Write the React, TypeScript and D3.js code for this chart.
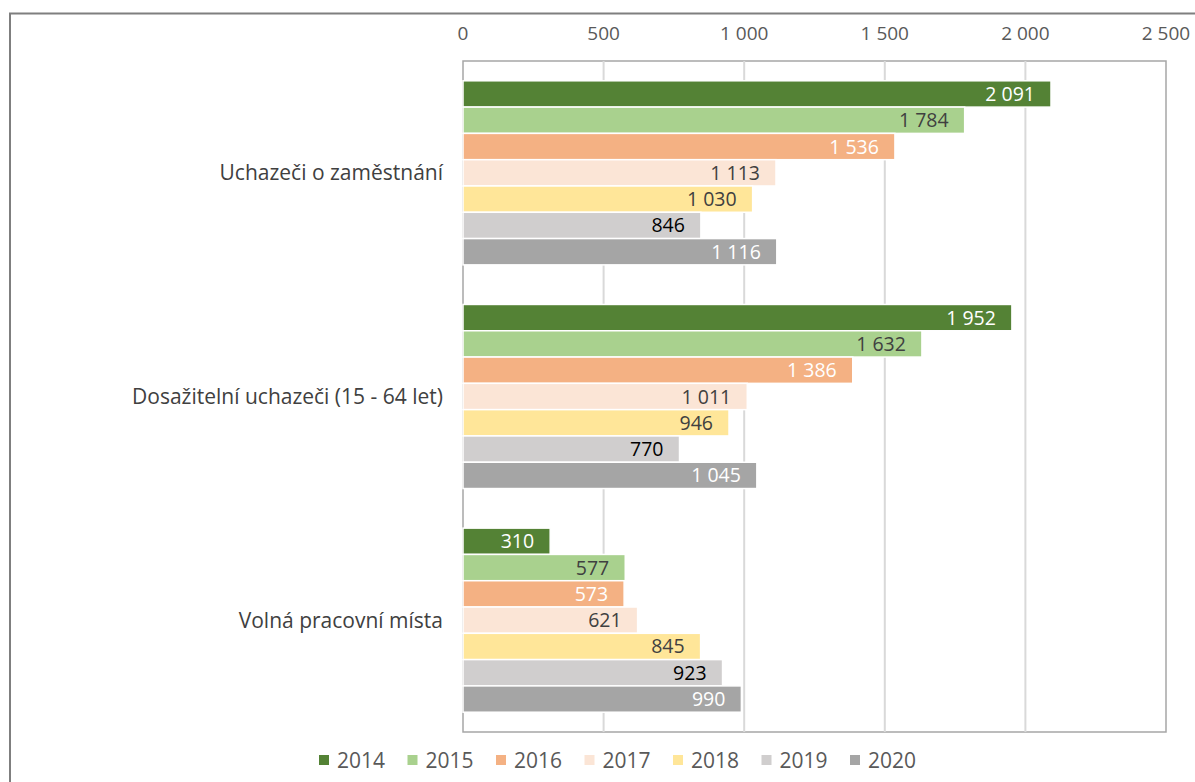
import * as d3 from 'd3'
import { useEffect, useRef } from 'react'

// categories (top to bottom) and years of the series
const categories = ['Uchazeči o zaměstnání', 'Dosažitelní uchazeči (15 - 64 let)', 'Volná pracovní místa']
const years = ['2014', '2015', '2016', '2017', '2018', '2019', '2020']

// values per year, in the order of categories
const values2014 = [2091, 1952, 310]
const values2015 = [1784, 1632, 577]
const values2016 = [1536, 1386, 573]
const values2017 = [1113, 1011, 621]
const values2018 = [1030, 946, 845]
const values2019 = [846, 770, 923]
const values2020 = [1116, 1045, 990]

const xTicks = [0, 500, 1000, 1500, 2000, 2500]

const seriesValues = [values2014, values2015, values2016, values2017, values2018, values2019, values2020]
const barColors = ['#548235', '#a9d18e', '#f4b183', '#fbe5d6', '#ffe699', '#d0cece', '#a5a5a5']
const labelColors = ['#ffffff', '#404040', '#ffffff', '#404040', '#404040', '#000000', '#ffffff']

const FONT = "'Open Sans', 'Noto Sans', sans-serif"

const App = () => {
    const ref = useRef<SVGSVGElement>(null)

    useEffect(() => {
        const svg = d3.select(ref.current)
        svg.selectAll('*').remove()

        const plot = { left: 463, right: 1166, top: 61, bottom: 732 }

        const x = d3.scaleLinear()
            .domain([0, 2500])
            .range([plot.left, plot.right])

        const y0 = d3.scaleBand()
            .domain(categories)
            .range([plot.top, plot.bottom])
            .paddingInner(0.177)
            .paddingOuter(0.0885)

        const y1 = d3.scaleBand()
            .domain(years)
            .range([0, y0.bandwidth()])

        const fmt = d3.formatLocale({ decimal: ',', thousands: '\u00a0', grouping: [3], currency: ['', ''] }).format(',d')

        // outer frame (only top and left edges are in view)
        svg.append('path')
            .attr('d', `M10,${782} V13.5 H1195`)
            .attr('fill', 'none')
            .attr('stroke', '#7f7f7f')
            .attr('stroke-width', 2)

        // plot area box
        svg.append('rect')
            .attr('x', plot.left)
            .attr('y', plot.top)
            .attr('width', plot.right - plot.left)
            .attr('height', plot.bottom - plot.top)
            .attr('fill', 'none')
            .attr('stroke', '#a6a6a6')
            .attr('stroke-width', 1.5)

        // gridlines
        svg.append('g')
            .selectAll('line')
            .data(xTicks.slice(1, -1))
            .join('line')
                .attr('x1', d => x(d))
                .attr('x2', d => x(d))
                .attr('y1', plot.top)
                .attr('y2', plot.bottom)
                .attr('stroke', '#d9d9d9')
                .attr('stroke-width', 2)

        // tick labels on top
        svg.append('g')
            .selectAll('text')
            .data(xTicks)
            .join('text')
                .attr('x', d => x(d))
                .attr('y', 40)
                .attr('text-anchor', 'middle')
                .attr('font-family', FONT)
                .attr('font-size', 19)
                .attr('fill', '#595959')
                .text(d => fmt(d))

        // category labels
        svg.append('g')
            .selectAll('text')
            .data(categories)
            .join('text')
                .attr('x', 443)
                .attr('y', d => y0(d)! + y0.bandwidth() / 2)
                .attr('dy', '0.35em')
                .attr('text-anchor', 'end')
                .attr('font-family', FONT)
                .attr('font-size', 21)
                .attr('fill', '#404040')
                .text(d => d)

        // bars
        const groups = svg.append('g')
            .selectAll('g')
            .data(years)
            .join('g')

        groups.selectAll('rect')
            .data((yr, i) => seriesValues[i].map((v, c) => ({ yr, i, v, cat: categories[c] })))
            .join('rect')
                .attr('x', x(0))
                .attr('y', d => y0(d.cat)! + y1(d.yr)!)
                .attr('width', d => x(d.v) - x(0))
                .attr('height', y1.bandwidth())
                .attr('fill', d => barColors[d.i])
                .attr('stroke', '#ffffff')
                .attr('stroke-width', 1.5)

        groups.selectAll('text')
            .data((yr, i) => seriesValues[i].map((v, c) => ({ yr, i, v, cat: categories[c] })))
            .join('text')
                .attr('x', d => x(d.v) - 16)
                .attr('y', d => y0(d.cat)! + y1(d.yr)! + y1.bandwidth() / 2)
                .attr('dy', '0.36em')
                .attr('text-anchor', 'end')
                .attr('font-family', FONT)
                .attr('font-size', 19.5)
                .attr('fill', d => labelColors[d.i])
                .text(d => fmt(d.v))

        // legend
        const lx = d3.scaleBand()
            .domain(years)
            .range([319, 319 + 7 * 88.5])

        const legend = svg.append('g')
            .selectAll('g')
            .data(years)
            .join('g')
                .attr('transform', d => `translate(${lx(d)},760)`)

        legend.append('rect')
            .attr('x', 0)
            .attr('y', -5)
            .attr('width', 10)
            .attr('height', 10)
            .attr('fill', (d, i) => barColors[i])

        legend.append('text')
            .attr('x', 18)
            .attr('y', 0)
            .attr('dy', '0.36em')
            .attr('font-family', FONT)
            .attr('font-size', 21)
            .attr('fill', '#595959')
            .text(d => d)
    }, [])

    return (
        <svg
            ref={ref}
            width={1195}
            height={782}
            style={{ position: 'absolute', left: 0, top: 0, background: '#ffffff' }}
        />
    )
}

export default App
